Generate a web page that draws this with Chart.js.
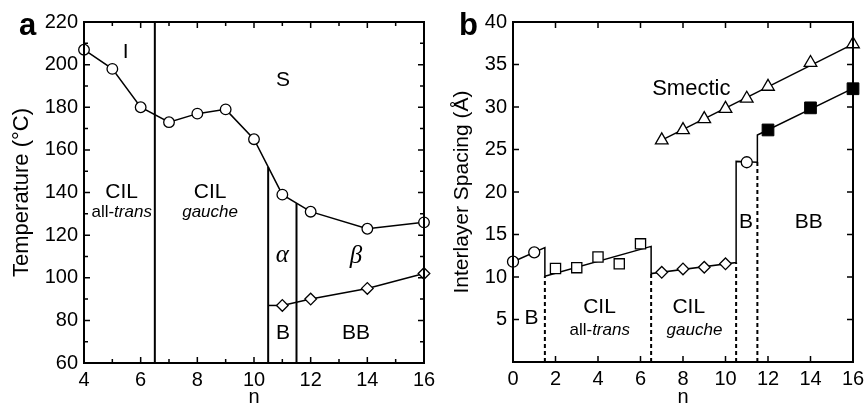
<!DOCTYPE html>
<html><head><meta charset="utf-8">
<script src="https://cdn.jsdelivr.net/npm/chart.js@4/dist/chart.umd.min.js"></script>
<style>
html,body{margin:0;padding:0;background:#fff;width:865px;height:405px;overflow:hidden}
#wa{position:absolute;left:0;top:0;width:450px;height:405px}
#wb{position:absolute;left:430px;top:0;width:435px;height:405px}
</style></head><body>
<div id="wa"><canvas id="ca" width="450" height="405"></canvas></div>
<div id="wb"><canvas id="cb" width="435" height="405"></canvas></div>
<script>
// ---------- Panel a data ----------
const nA = [4, 5, 6, 7, 8, 9, 10, 11, 12, 14, 16];
const tempUpper = [207, 198, 180, 173, 177, 179, 165, 139, 131, 123, 126];
const nLowerA = [11, 12, 14, 16];
const tempLower = [87, 90, 95, 102];
const boundaryNA = [6.5, 10.5, 11.5];
const boundaryTopA = [220, 152, 135];
const bTopNA = [10.5, 11];
const bTopTA = [87, 87];
const xLabelsA = [4, 6, 8, 10, 12, 14, 16];
const yLabelsA = [60, 80, 100, 120, 140, 160, 180, 200, 220];

// ---------- Panel b data ----------
const nBcirc = [0, 1];
const spBcirc = [11.8, 12.9];
const nTrans = [2, 3, 4, 5, 6];
const spTrans = [11.0, 11.1, 12.35, 11.55, 13.9];
const nGauche = [7, 8, 9, 10];
const spGauche = [10.55, 10.95, 11.15, 11.55];
const nB2 = [11];
const spB2 = [23.5];
const nBB = [12, 14, 16];
const spBB = [27.3, 29.9, 32.15];
const nSmectic = [7, 8, 9, 10, 11, 12, 14, 16];
const spSmectic = [26.1, 27.3, 28.6, 29.8, 31.0, 32.4, 35.2, 37.4];
const nSmecticFit = [7, 16];
const spSmecticFit = [26.1, 37.4];
const nStepFit = [0, 1.5, 1.5, 6.5, 6.5, 10.5, 10.5, 11.5, 11.5, 16];
const spStepFit = [11.8, 13.45, 10.1, 13.6, 10.4, 11.7, 23.6, 23.5, 26.7, 32.2];
const dashNB = [1.5, 6.5, 10.5, 11.5];
const dashTopB = [10.1, 10.4, 11.7, 23.5];
const xLabelsB = [0, 2, 4, 6, 8, 10, 12, 14, 16];
const yLabelsB = [5, 10, 15, 20, 25, 30, 35, 40];

const FONT = '"Liberation Sans", Arial, Helvetica, sans-serif';
const pts = (xs, ys) => xs.map((x, i) => ({x: x, y: ys[i]}));

function drawRich(ctx, segs, cx, cy, size, family) {
  let total = 0;
  segs.forEach(s => { ctx.font = (s.it ? 'italic ' : '') + size + 'px ' + family; s.w = ctx.measureText(s.t).width; total += s.w; });
  let x = cx - total / 2;
  ctx.textAlign = 'left'; ctx.textBaseline = 'middle';
  segs.forEach(s => { ctx.font = (s.it ? 'italic ' : '') + size + 'px ' + family; ctx.fillText(s.t, x, cy); x += s.w; });
}

function framePlugin(majorLen, minorLen) {
  return {
    id: 'frame',
    afterDraw(chart) {
      const {ctx, chartArea: a, scales: {x, y}} = chart;
      ctx.save();
      ctx.strokeStyle = '#000';
      ctx.lineWidth = 1.5;
      ctx.beginPath();
      x.ticks.forEach(t => {
        const px = x.getPixelForValue(t.value);
        if (Math.abs(px - a.left) < 1 || Math.abs(px - a.right) < 1) return;
        const L = t.label !== '' ? majorLen : minorLen;
        ctx.moveTo(px, a.bottom); ctx.lineTo(px, a.bottom - L);
        ctx.moveTo(px, a.top); ctx.lineTo(px, a.top + L);
      });
      y.ticks.forEach(t => {
        const py = y.getPixelForValue(t.value);
        if (Math.abs(py - a.top) < 1 || Math.abs(py - a.bottom) < 1) return;
        const L = t.label !== '' ? majorLen : minorLen;
        ctx.moveTo(a.left, py); ctx.lineTo(a.left + L, py);
        ctx.moveTo(a.right, py); ctx.lineTo(a.right - L, py);
      });
      ctx.stroke();
      ctx.lineWidth = 2;
      ctx.strokeRect(a.left, a.top, a.right - a.left, a.bottom - a.top);
      ctx.restore();
    }
  };
}

function textPlugin(notes, letter) {
  return {
    id: 'notes',
    afterDraw(chart) {
      const {ctx, scales: {x, y}} = chart;
      ctx.save();
      ctx.fillStyle = '#000';
      notes.forEach(n => {
        drawRich(ctx, n.segs, x.getPixelForValue(n.x), y.getPixelForValue(n.y), n.size, n.family || FONT);
      });
      ctx.font = 'bold 31px ' + FONT;
      ctx.textAlign = 'left'; ctx.textBaseline = 'alphabetic';
      ctx.fillText(letter.t, letter.x, letter.y);
      ctx.restore();
    }
  };
}

const SERIF = '"Liberation Serif", "Times New Roman", serif';
const notesA = [
  {segs: [{t: 'I'}], x: 5.47, y: 205.9, size: 21},
  {segs: [{t: 'S'}], x: 11.02, y: 192.6, size: 21},
  {segs: [{t: 'CIL'}], x: 5.33, y: 140.2, size: 21},
  {segs: [{t: 'all-'}, {t: 'trans', it: true}], x: 5.33, y: 130.7, size: 17},
  {segs: [{t: 'CIL'}], x: 8.45, y: 140.2, size: 21},
  {segs: [{t: 'gauche', it: true}], x: 8.45, y: 130.7, size: 17},
  {segs: [{t: 'α', it: true}], x: 11.0, y: 110.5, size: 25, family: SERIF},
  {segs: [{t: 'β', it: true}], x: 13.6, y: 110.0, size: 25, family: SERIF},
  {segs: [{t: 'B'}], x: 11.02, y: 73.9, size: 21},
  {segs: [{t: 'BB'}], x: 13.6, y: 73.9, size: 21}
];
const notesB = [
  {segs: [{t: 'Smectic'}], x: 8.39, y: 32.15, size: 22},
  {segs: [{t: 'B'}], x: 0.87, y: 5.12, size: 21},
  {segs: [{t: 'CIL'}], x: 4.07, y: 6.39, size: 21},
  {segs: [{t: 'all-'}, {t: 'trans', it: true}], x: 4.08, y: 3.75, size: 17},
  {segs: [{t: 'CIL'}], x: 8.27, y: 6.39, size: 21},
  {segs: [{t: 'gauche', it: true}], x: 8.54, y: 3.75, size: 17},
  {segs: [{t: 'B'}], x: 10.96, y: 16.39, size: 21},
  {segs: [{t: 'BB'}], x: 13.92, y: 16.39, size: 21}
];

function axisOpts(min, max, step, labels, title, titleSize, isX, fitSize, titlePad) {
  return {
    type: 'linear', min: min, max: max,
    afterFit: s => {
      if (isX) s.height = fitSize; else s.width = fitSize;
      s.paddingLeft = 0; s.paddingRight = 0; s.paddingTop = 0; s.paddingBottom = 0;
    },
    ticks: {
      stepSize: step, autoSkip: false, maxRotation: 0, minRotation: 0,
      padding: isX ? 5 : 6, color: '#000', font: {family: FONT, size: 20},
      callback: v => labels.includes(v) ? String(v) : ''
    },
    grid: {display: false, drawTicks: false},
    border: {display: false},
    title: {display: true, text: title, color: '#000', font: {family: FONT, size: titleSize}, padding: titlePad}
  };
}

const common = {
  responsive: false, animation: false, devicePixelRatio: 1,
  plugins: {legend: {display: false}, tooltip: {enabled: false}}
};

// ---------- Chart a ----------
const dsA = [
  {data: pts(nA, tempUpper), showLine: true, borderColor: '#000', borderWidth: 1.5,
   pointStyle: 'circle', pointRadius: 5.3, pointBackgroundColor: '#fff', pointBorderColor: '#000', pointBorderWidth: 1.3, clip: false},
  {data: pts(nLowerA, tempLower), showLine: true, borderColor: '#000', borderWidth: 1.5,
   pointStyle: 'rectRot', pointRadius: 5.8, pointBackgroundColor: '#fff', pointBorderColor: '#000', pointBorderWidth: 1.3, clip: false},
  {data: pts(bTopNA, bTopTA), showLine: true, borderColor: '#000', borderWidth: 1.5, pointRadius: 0, clip: false}
];
boundaryNA.forEach((bn, i) => {
  dsA.push({data: pts([bn, bn], [60, boundaryTopA[i]]), showLine: true, borderColor: '#000', borderWidth: 2, pointRadius: 0, clip: false});
});

new Chart(document.getElementById('ca'), {
  type: 'scatter',
  data: {datasets: dsA},
  options: Object.assign({}, common, {
    layout: {padding: {top: 22, right: 26, left: 0, bottom: 0}},
    scales: {
      x: axisOpts(4, 16, 1, xLabelsA, 'n', 20, true, 42, {top: 0, bottom: -4}),
      y: axisOpts(60, 220, 10, yLabelsA, 'Temperature (°C)', 22, false, 84, {top: 9, bottom: 0})
    }
  }),
  plugins: [framePlugin(6, 4), textPlugin(notesA, {t: 'a', x: 19, y: 35})]
});

// ---------- Chart b ----------
const dsB = [
  {data: pts(nBcirc, spBcirc), showLine: false, pointStyle: 'circle', pointRadius: 5.5, pointBackgroundColor: '#fff', pointBorderColor: '#000', pointBorderWidth: 1.3, clip: false},
  {data: pts(nTrans, spTrans), showLine: false, pointStyle: 'rect', pointRadius: 7.2, pointBackgroundColor: '#fff', pointBorderColor: '#000', pointBorderWidth: 1.3, clip: false},
  {data: pts(nGauche, spGauche), showLine: false, pointStyle: 'rectRot', pointRadius: 5.8, pointBackgroundColor: '#fff', pointBorderColor: '#000', pointBorderWidth: 1.3, clip: false},
  {data: pts(nB2, spB2), showLine: false, pointStyle: 'circle', pointRadius: 5.5, pointBackgroundColor: '#fff', pointBorderColor: '#000', pointBorderWidth: 1.3, clip: false},
  {data: pts(nBB, spBB), showLine: false, pointStyle: 'rect', pointRadius: 8.3, pointBackgroundColor: '#000', pointBorderColor: '#000', pointBorderWidth: 1, clip: false},
  {data: pts(nSmectic, spSmectic), showLine: false, pointStyle: 'triangle', pointRadius: 7.3, pointBackgroundColor: '#fff', pointBorderColor: '#000', pointBorderWidth: 1.3, clip: false},
  {data: pts(nSmecticFit, spSmecticFit), showLine: true, borderColor: '#000', borderWidth: 1.5, pointRadius: 0, clip: false},
  {data: pts(nStepFit, spStepFit), showLine: true, borderColor: '#000', borderWidth: 1.5, pointRadius: 0, clip: false}
];
dashNB.forEach((bn, i) => {
  dsB.push({data: pts([bn, bn], [0, dashTopB[i]]), showLine: true, borderColor: '#000', borderWidth: 2, borderDash: [4, 3], pointRadius: 0, clip: false});
});

new Chart(document.getElementById('cb'), {
  type: 'scatter',
  data: {datasets: dsB},
  options: Object.assign({}, common, {
    layout: {padding: {top: 22, right: 12, left: 0, bottom: 0}},
    scales: {
      x: axisOpts(0, 16, 2, xLabelsB, 'n', 20, true, 43, {top: 0, bottom: -4}),
      y: axisOpts(0, 40, 5, yLabelsB, 'Interlayer Spacing (Å)', 21, false, 83, {top: 20, bottom: 0})
    }
  }),
  plugins: [framePlugin(6, 4), textPlugin(notesB, {t: 'b', x: 29, y: 35})]
});
</script>
</body></html>
